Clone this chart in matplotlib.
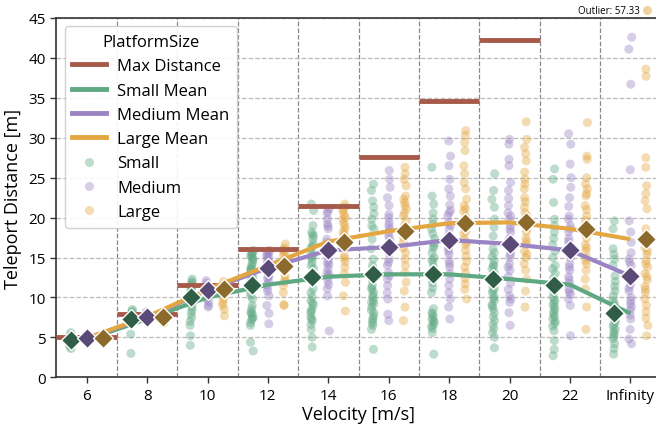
import numpy as np
import pandas as pd
import matplotlib
matplotlib.use("Agg")
import matplotlib.pyplot as plt
import seaborn as sns
from matplotlib.lines import Line2D

VELOCITIES = ["6", "8", "10", "12", "14", "16", "18", "20", "22", "Infinity"]
SIZES = ["Small", "Medium", "Large"]

# raw teleport distances per velocity
SMALL_PTS = [
    [5.6, 5.3, 5.1, 4.9, 4.8, 4.7, 4.6, 4.5, 4.4, 4.2, 4.0, 3.8, 3.6],
    [8.5, 8.3, 8.1, 7.9, 7.8, 7.6, 7.5, 7.3, 7.2, 7.0, 6.9, 5.4, 3.0],
    [12.3, 12.0, 11.8, 11.5, 11.3, 11.0, 10.8, 10.6, 10.4, 10.2, 10.0, 9.8, 9.5, 9.2, 8.8, 8.4, 8.0, 7.5, 7.0, 6.5, 5.2, 4.0],
    [15.9, 15.7, 15.5, 15.2, 15.0, 14.7, 14.4, 14.1, 13.8, 13.5, 13.2, 12.9, 12.6, 12.3, 12.0, 11.6, 10.6, 10.2, 9.8, 9.0,
     8.6, 8.2, 7.9, 7.5, 7.2, 6.8, 6.5, 4.4, 3.3, 15.4, 14.9, 13.6, 8.0, 7.4],
    [21.7, 20.9, 19.0, 18.2, 17.7, 17.3, 16.7, 16.2, 15.8, 15.3, 14.9, 14.4, 14.0, 13.6, 12.7, 11.1, 10.6, 10.1, 9.6, 9.1,
     8.6, 8.1, 7.6, 7.1, 6.6, 6.0, 5.0, 3.8, 17.9, 16.4, 15.1, 9.3, 8.3, 7.3],
    [24.2, 23.4, 22.1, 21.3, 20.5, 19.8, 19.0, 18.6, 17.3, 16.1, 14.8, 14.0, 13.6, 12.7, 12.1, 11.5, 11.0, 10.6, 10.0, 9.6,
     9.2, 8.8, 8.1, 7.7, 7.1, 6.5, 6.0, 3.5, 11.2, 10.3, 9.4, 8.4, 7.4, 6.8],
    [26.3, 22.7, 21.7, 20.6, 19.8, 19.2, 18.6, 18.0, 17.4, 16.8, 16.2, 15.6, 15.0, 14.4, 13.8, 13.1, 12.3, 11.8, 11.2, 10.6,
     8.6, 8.1, 7.6, 7.1, 6.6, 6.1, 5.6, 2.9, 7.9, 7.3, 6.9, 6.4, 16.5, 14.7],
    [25.5, 23.4, 22.3, 21.3, 19.8, 18.8, 17.7, 16.1, 15.6, 15.1, 14.6, 14.1, 13.6, 13.1, 12.6, 12.1, 11.6, 11.1, 10.6, 10.1,
     9.6, 9.1, 8.6, 8.1, 7.6, 7.1, 6.6, 6.1, 5.6, 5.0, 3.7, 13.9, 12.9, 10.9, 9.9, 8.9],
    [26.1, 24.8, 21.9, 19.8, 19.0, 18.2, 17.4, 16.6, 15.8, 15.0, 14.0, 13.6, 13.0, 12.4, 11.8, 11.2, 10.6, 10.0, 9.4, 8.8,
     8.2, 7.6, 7.0, 6.4, 5.8, 4.6, 3.5, 2.7, 9.7, 9.1, 8.5, 7.9, 7.3, 6.7],
    [19.6, 18.6, 16.1, 15.4, 14.8, 14.0, 12.7, 12.0, 11.4, 10.8, 10.2, 9.6, 9.0, 8.4, 7.8, 7.2, 6.6, 6.0, 5.4, 4.8,
     4.2, 3.6, 2.9, 9.3, 8.7, 8.1, 7.5, 6.9, 6.3, 5.7, 5.1],
]
MEDIUM_PTS = [
    [5.3, 5.1, 5.0, 4.9, 4.8, 4.7, 4.6, 4.5, 4.4],
    [8.2, 8.0, 7.8, 7.6, 7.5, 7.4, 7.2, 7.0],
    [12.1, 11.8, 11.5, 11.2, 11.0, 10.7, 10.4, 10.1, 9.8, 9.4, 9.0, 8.8],
    [15.9, 15.6, 15.3, 15.0, 14.7, 14.4, 14.0, 13.6, 13.2, 12.8, 12.4, 12.0, 11.6, 11.2, 10.8, 10.2, 9.0, 8.0, 6.7,
     15.7, 15.1, 14.2, 13.4, 12.6],
    [21.1, 20.5, 19.8, 19.2, 18.6, 17.3, 16.9, 16.5, 16.1, 15.6, 15.1, 14.6, 14.1, 13.6, 13.1, 12.6, 12.1, 11.6, 11.1, 10.2,
     5.8, 20.8, 18.9, 16.3, 15.3, 14.3, 12.9],
    [25.9, 24.8, 23.8, 22.5, 21.5, 20.4, 19.4, 19.0, 18.2, 17.3, 16.5, 15.6, 14.8, 14.0, 13.1, 12.3, 11.5, 10.6, 9.8, 7.9,
     7.1, 20.0, 18.6, 17.7, 16.0, 14.4, 12.7],
    [29.6, 27.7, 26.5, 24.8, 23.6, 22.7, 21.6, 20.6, 20.2, 19.4, 18.6, 17.8, 17.0, 16.2, 15.4, 14.6, 13.8, 13.0, 12.3, 11.5,
     10.6, 9.8, 8.8, 7.3, 20.9, 19.0, 17.4, 15.8, 14.2],
    [29.8, 29.2, 27.3, 26.5, 24.4, 23.4, 22.4, 21.5, 20.6, 19.8, 19.0, 18.2, 17.4, 16.6, 15.8, 15.0, 14.2, 13.4, 12.6, 11.8,
     11.0, 10.2, 9.8, 9.4, 8.1, 6.5, 20.2, 18.6, 17.0, 15.4, 13.8],
    [30.5, 29.2, 26.7, 25.0, 23.8, 22.5, 21.4, 20.2, 19.8, 19.0, 18.2, 17.4, 16.6, 15.8, 15.0, 14.2, 13.4, 12.6, 11.8, 11.0,
     10.4, 9.8, 9.0, 5.2, 18.6, 17.0, 15.4, 13.8, 12.2, 10.7],
    [42.6, 41.1, 36.7, 26.0, 19.6, 18.2, 16.9, 15.6, 14.8, 14.0, 13.2, 12.4, 11.6, 10.8, 10.0, 9.2, 8.4, 7.3, 6.0, 4.8,
     4.2, 14.4, 12.8, 11.2, 9.6, 8.8, 7.8],
]
LARGE_PTS = [
    [5.3, 5.1, 5.0, 4.9, 4.8, 4.7, 4.6],
    [8.1, 7.9, 7.7, 7.5, 7.3, 7.0, 6.8],
    [12.0, 11.7, 11.4, 11.1, 10.8, 10.5, 10.2, 9.8, 9.4, 9.0, 8.5, 7.7],
    [16.7, 16.2, 15.8, 15.3, 14.8, 14.3, 13.9, 13.6, 12.7, 12.2, 11.5, 10.6, 9.1, 9.0, 16.0, 15.5, 14.6, 12.0],
    [21.7, 21.3, 20.8, 20.3, 19.8, 19.3, 18.6, 18.2, 17.6, 17.0, 16.5, 15.2, 14.5, 13.8, 13.0, 11.9, 10.2, 8.3,
     21.0, 20.0, 19.0, 17.9, 16.8, 14.9],
    [26.3, 25.5, 24.8, 24.0, 22.7, 22.3, 21.9, 21.1, 20.2, 19.0, 18.2, 16.9, 15.6, 14.8, 14.0, 13.1, 11.9, 10.8, 8.8, 7.1,
     21.5, 20.6, 19.6, 18.6, 17.5, 16.2],
    [30.9, 30.3, 29.4, 28.4, 26.5, 25.5, 24.4, 23.6, 22.3, 21.5, 20.8, 20.1, 19.4, 18.7, 18.0, 17.3, 16.6, 15.9, 15.2, 14.5,
     13.8, 13.1, 12.4, 11.7, 11.0, 9.8, 21.1, 19.7, 18.3, 16.9],
    [32.0, 29.8, 28.8, 28.0, 27.1, 25.7, 24.8, 23.6, 22.5, 21.3, 20.6, 19.8, 19.0, 18.2, 17.4, 16.6, 15.8, 15.0, 14.2, 13.4,
     12.3, 10.8, 8.8, 24.2, 22.0, 20.2, 18.6, 17.0, 15.4],
    [31.9, 27.7, 27.3, 25.0, 24.2, 23.6, 22.7, 21.5, 20.2, 19.0, 18.2, 17.4, 16.6, 15.8, 15.0, 14.2, 13.4, 12.3, 11.1, 8.8,
     6.0, 23.0, 21.0, 19.6, 18.0, 16.2, 14.6],
    [57.33, 38.6, 37.7, 27.5, 26.3, 24.0, 23.0, 22.1, 21.1, 18.6, 17.8, 17.0, 16.2, 15.4, 14.6, 13.8, 13.0, 12.2, 11.4, 10.6,
     9.8, 9.0, 8.2, 7.4, 6.5, 5.2, 17.4, 15.8, 14.2, 12.6, 11.0],
]

SMALL_MEAN = [4.7, 7.3, 10.0, 11.6, 12.6, 12.9, 12.9, 12.3, 11.6, 8.0]
MEDIUM_MEAN = [4.9, 7.5, 10.9, 13.7, 15.9, 16.3, 17.2, 16.7, 15.9, 12.7]
LARGE_MEAN = [4.9, 7.6, 11.0, 14.0, 17.0, 18.3, 19.3, 19.4, 18.6, 17.3]
MAX_DIST = [5.0, 7.9, 11.6, 16.1, 21.5, 27.6, 34.6, 42.3, np.nan, np.nan]
OUTLIER = 57.33

POINT_COLORS = {"Small": "#5ea882", "Medium": "#9a84c4", "Large": "#e3a640"}
MEAN_COLORS = {"Small": "#2f5d45", "Medium": "#5b4a78", "Large": "#8c6a2c"}
MAX_COLOR = "#a65a4a"

plt.rcParams["font.family"] = ["Open Sans", "DejaVu Sans"]

rows = []
for size, pts in zip(SIZES, [SMALL_PTS, MEDIUM_PTS, LARGE_PTS]):
    for vel, vals in zip(VELOCITIES, pts):
        for v in vals:
            rows.append({"Velocity": vel, "PlatformSize": size, "Distance": v})
df = pd.DataFrame(rows)

fig = plt.figure(figsize=(6.56, 4.31), dpi=100)
ax = fig.add_axes([56.5 / 656, 52.7 / 431, 604 / 656, 359.3 / 431])

np.random.seed(3)
sns.stripplot(data=df, x="Velocity", y="Distance", hue="PlatformSize",
              order=VELOCITIES, hue_order=SIZES, palette=POINT_COLORS,
              dodge=True, jitter=0.075, size=6.5, alpha=0.4, linewidth=0,
              ax=ax, legend=False, zorder=2)

xs = np.arange(len(VELOCITIES))
ax.hlines(MAX_DIST, xs - 0.5, xs + 0.5, color=MAX_COLOR, lw=3.5, zorder=3)

offsets = {"Small": -0.267, "Medium": 0.0, "Large": 0.267}
for size, means in zip(SIZES, [SMALL_MEAN, MEDIUM_MEAN, LARGE_MEAN]):
    ax.plot(xs, means, color=POINT_COLORS[size], lw=3, zorder=4, solid_capstyle="butt")
for size, means in zip(SIZES, [SMALL_MEAN, MEDIUM_MEAN, LARGE_MEAN]):
    ax.plot(xs + offsets[size], means, ls="none", marker="D", ms=10.5,
            mfc=MEAN_COLORS[size], mec="white", mew=1.0, zorder=5)

ax.set_xlim(-0.5, 9.5)
ax.set_ylim(0, 45)
ax.set_yticks(np.arange(0, 46, 5))
ax.set_xticks(xs)
ax.set_xticklabels(VELOCITIES)
ax.set_xticks(xs[:-1] + 0.5, minor=True)
ax.tick_params(axis="x", which="minor", length=0)
ax.tick_params(axis="both", which="major", labelsize=11, length=4, width=1, color="#333333")
ax.grid(True, axis="y", ls="--", color="#bbbbbb", lw=0.9)
ax.grid(True, axis="x", which="minor", ls="--", color="#888888", lw=0.9)
ax.set_axisbelow(True)
for sp in ax.spines.values():
    sp.set_color("#333333")
    sp.set_linewidth(1.2)
ax.set_xlabel("Velocity [m/s]", fontsize=13, labelpad=2)
ax.set_ylabel("Teleport Distance [m]", fontsize=13, labelpad=5)

handles = [Line2D([], [], color=MAX_COLOR, lw=3.5, label="Max Distance")]
for size in SIZES:
    handles.append(Line2D([], [], color=POINT_COLORS[size], lw=3.5, label=f"{size} Mean"))
for size in SIZES:
    handles.append(Line2D([], [], ls="none", marker="o", ms=6.5, mec="none",
                          mfc=POINT_COLORS[size], alpha=0.4, label=size))
leg = ax.legend(handles=handles, title="PlatformSize", loc="upper left",
                fontsize=12, title_fontsize=12, frameon=True, framealpha=0.9,
                borderpad=0.45, labelspacing=0.5, handlelength=2.0, handletextpad=0.7,
                borderaxespad=0.5)
leg.get_frame().set_edgecolor("#cccccc")

fig.text(640 / 656, 1 - 11 / 431, f"Outlier: {OUTLIER:.2f}", ha="right", va="center", fontsize=7)
fig.add_artist(Line2D([647 / 656], [1 - 11 / 431], transform=fig.transFigure, ls="none",
                      marker="o", ms=6.5, mec="none", mfc=POINT_COLORS["Large"], alpha=0.5))

fig.savefig("out.png", dpi=100)
